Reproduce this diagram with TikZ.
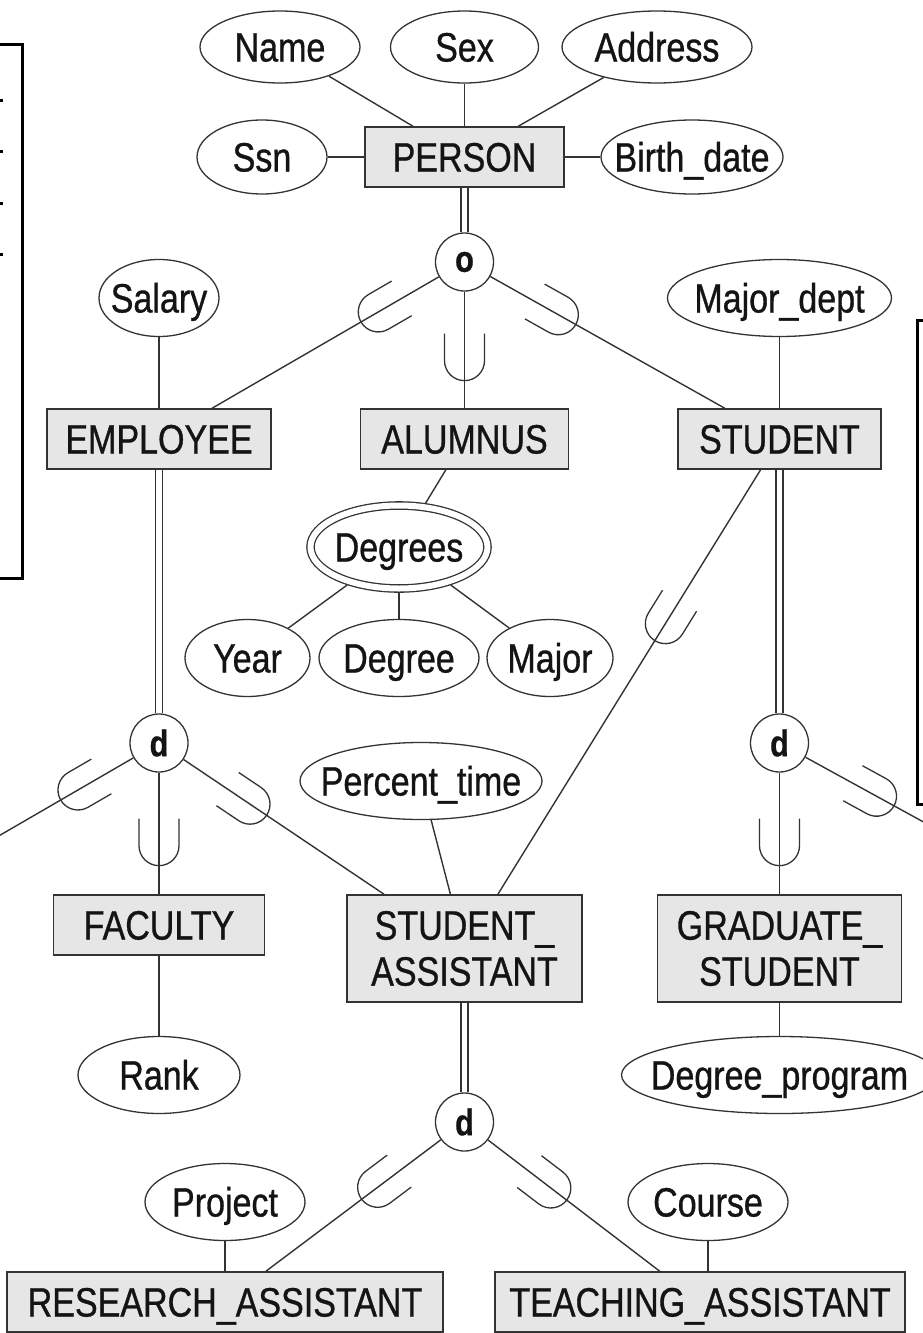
\documentclass[tikz,border=0pt]{standalone}
\usepackage{fontspec}
\setmainfont[FakeStretch=0.83,FakeBold=0.8]{Liberation Sans}
\usetikzlibrary{shapes.geometric,decorations.markings,calc}
\definecolor{ln}{HTML}{333333}
\definecolor{boxfill}{HTML}{E6E6E6}
\definecolor{txt}{HTML}{141414}
\newcommand{\attrtext}[1]{\makebox[0pt]{#1}}
\begin{document}
\begin{tikzpicture}[x=1pt,y=-1pt,
  every node/.style={text=txt},
  ent/.style={draw=ln, fill=boxfill, line width=1.5pt, rectangle, inner sep=0pt,
    font=\fontsize{41}{46}\selectfont, align=center},
  oneline/.style={minimum height=60pt, text height=29pt, text depth=0pt},
  attr/.style={draw=ln, ellipse, line width=1.3pt, inner sep=0pt, minimum height=77pt,
    font=\fontsize{41}{46}\selectfont, text height=29pt, text depth=0pt},
  spec/.style={draw=ln, fill=white, circle, line width=1.3pt, inner sep=0pt, minimum size=58pt,
    font=\bfseries\fontsize{37}{37}\selectfont},
  conn/.style={draw=ln, line width=1.4pt},
  dbl/.style={draw=ln, line width=1.3pt, double=white, double distance=5.5pt},
  subset/.style={postaction={decorate, decoration={markings, mark=at position #1 with {
    \draw[ln, line width=1.3pt] (-47,20) -- (-20,20) .. controls (-8.95,20) and (0,11.05) .. (0,0)
      .. controls (0,-11.05) and (-8.95,-20) .. (-20,-20) -- (-47,-20);}}}},
  frame/.style={draw=black, line width=3pt}
]
\useasboundingbox (0,0) rectangle (923,1333);
\clip (0,0) rectangle (923,1333);

% side frames
\draw[frame] (-10,44) -- (22,44) -- (22,578) -- (-10,578);
\foreach \yy in {100,151,203,254} \draw[frame] (-2,\yy) -- (3,\yy);
\draw[frame] (940,320) -- (917,320) -- (917,804) -- (940,804);

% attributes top
\node[attr, minimum width=160pt, minimum height=72pt] (Name) at (280,47) {\attrtext{Name}};
\node[attr, minimum width=148pt, minimum height=72pt] (Sex) at (464.5,47) {\attrtext{Sex}};
\node[attr, minimum width=190pt, minimum height=72pt] (Address) at (657,47) {\attrtext{Address}};
\node[attr, minimum width=130pt, minimum height=74pt] (Ssn) at (262,157) {\attrtext{Ssn}};
\node[ent, minimum width=199pt, minimum height=60pt, text height=29pt, text depth=0pt] (PERSON) at (464.5,157) {PERSON};
\node[attr, minimum width=182pt, minimum height=74pt] (Birth) at (692,157) {\attrtext{Birth\_date}};

\node[spec] (o) at (464.5,262) {o};

\node[attr, minimum width=120pt] (Salary) at (159,298) {\attrtext{Salary}};
\node[attr, minimum width=224pt] (Major_dept) at (779.5,298) {\attrtext{Major\_dept}};

\node[ent, oneline, minimum width=224pt] (EMPLOYEE) at (159,439) {EMPLOYEE};
\node[ent, oneline, minimum width=208pt] (ALUMNUS) at (464.5,439) {ALUMNUS};
\node[ent, oneline, minimum width=203pt] (STUDENT) at (779.5,439) {STUDENT};

\node[attr, double=white, double distance=6pt, minimum width=177pt, minimum height=83pt, outer sep=4.3pt] (Degrees) at (399,547) {\attrtext{Degrees}};
\node[attr, minimum width=125pt] (Year) at (247.5,658) {\attrtext{Year}};
\node[attr, minimum width=160pt] (Degree) at (399,658) {\attrtext{Degree}};
\node[attr, minimum width=126pt] (Major) at (550,658) {\attrtext{Major}};

\node[spec] (d1) at (159,743) {d};
\node[spec] (d2) at (779.5,743) {d};
\node[attr, minimum width=242pt] (Percent) at (421,781) {\attrtext{Percent\_time}};

\node[ent, oneline, minimum width=211pt] (FACULTY) at (159,925) {FACULTY};
\node[ent, minimum width=235pt, minimum height=107pt] (SA) at (464.5,948.5) {STUDENT\_\\ASSISTANT};
\node[ent, minimum width=244pt, minimum height=107pt] (GS) at (779.5,948.5) {GRADUATE\_\\STUDENT};

\node[attr, minimum width=162pt] (Rank) at (159,1075) {\attrtext{Rank}};
\node[attr, minimum width=316pt] (Degree_program) at (779.5,1075) {\attrtext{Degree\_program}};

\node[spec] (d3) at (464.5,1122) {d};

\node[attr, minimum width=160pt] (Project) at (225,1202) {\attrtext{Project}};
\node[attr, minimum width=160pt] (Course) at (708,1202) {\attrtext{Course}};

\node[ent, oneline, minimum width=436pt] (RA) at (225,1302) {RESEARCH\_ASSISTANT};
\node[ent, oneline, minimum width=410pt] (TA) at (700,1302) {TEACHING\_ASSISTANT};

\coordinate (offL) at (-30,852.6);
\coordinate (offR) at (960,842);

% attribute links
\draw[conn] (Name) -- (PERSON);
\draw[conn] (Sex) -- (PERSON);
\draw[conn] (Address) -- (PERSON);
\draw[conn] (Ssn) -- (PERSON);
\draw[conn] (Birth) -- (PERSON);
\draw[conn] (Salary) -- (EMPLOYEE);
\draw[conn] (Major_dept) -- (STUDENT);
\draw[conn] (ALUMNUS) -- (Degrees);
\draw[conn] (Degrees) -- (Year);
\draw[conn] (Degrees) -- (Degree);
\draw[conn] (Degrees) -- (Major);
\draw[conn] (Percent) -- (SA);
\draw[conn] (Rank) -- (FACULTY);
\draw[conn] (Degree_program) -- (GS);
\draw[conn] (Project) -- (RA);
\draw[conn] (Course) -- (Course |- TA.north);

% specialization links
\draw[dbl] (PERSON) -- (o);
\draw[conn, subset=90pt] (o) -- (EMPLOYEE);
\draw[conn, subset=89pt] (o) -- (ALUMNUS);
\draw[conn, subset=98pt] (o) -- (STUDENT);

\draw[dbl] (EMPLOYEE) -- (d1);
\draw[conn, subset=84pt] (d1) -- (offL);
\draw[conn, subset=93pt] (d1) -- (FACULTY);
\draw[conn, subset=100pt] (d1) -- (SA);

\draw[conn, subset=201pt] (STUDENT) -- (SA);

\draw[dbl] (STUDENT) -- (d2);
\draw[conn, subset=93pt] (d2) -- (GS);
\draw[conn, subset=101pt] (d2) -- (offR);

\draw[dbl] (SA) -- (d3);
\draw[conn, subset=99pt] (d3) -- (RA);
\draw[conn, subset=99pt] (d3) -- (TA);
\end{tikzpicture}
\end{document}
